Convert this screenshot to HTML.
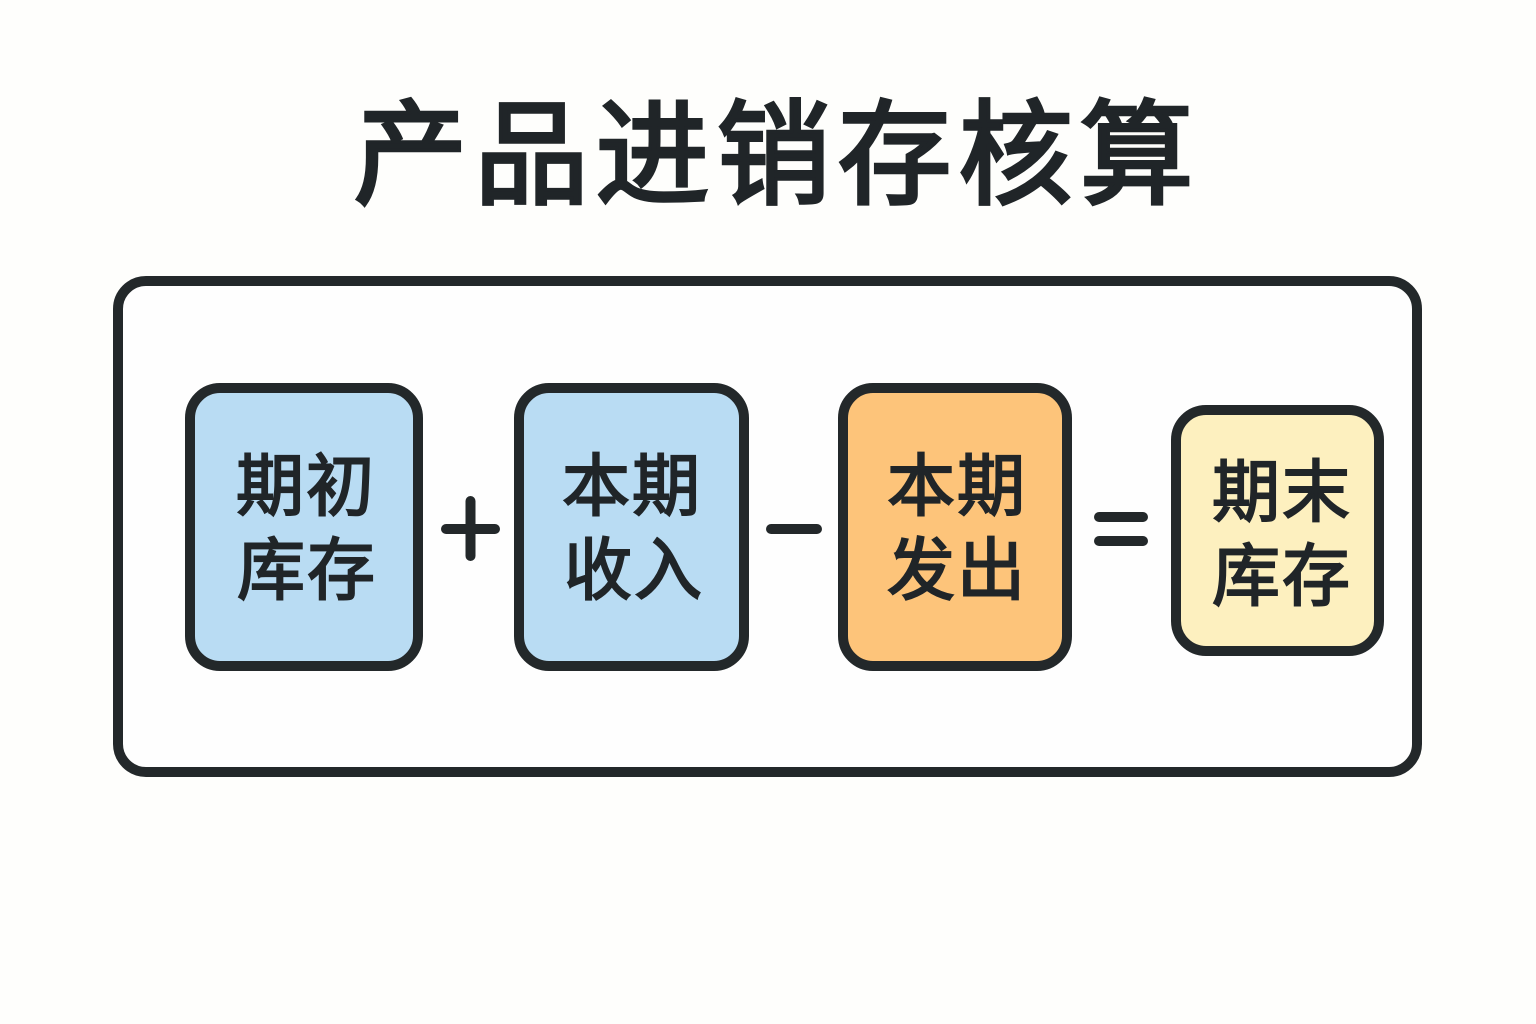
<!DOCTYPE html>
<html lang="zh">
<head>
<meta charset="utf-8">
<style>
html,body{margin:0;padding:0;background:#fefefc;}
body{width:1536px;height:1024px;overflow:hidden;}
svg{display:block;}
text{font-family:"Liberation Sans","Noto Sans CJK SC",sans-serif;fill:#202528;stroke:#202528;text-anchor:middle;font-weight:400;}
.t{font-size:68px;stroke-width:2px;letter-spacing:2px;}
</style>
</head>
<body>
<svg width="1536" height="1024" viewBox="0 0 1536 1024" xmlns="http://www.w3.org/2000/svg">
<rect width="1536" height="1024" fill="#fefefc"/>
<text x="777" y="195" style="font-size:114px;stroke-width:3.5px;letter-spacing:7px">产品进销存核算</text>
<rect x="118" y="281" width="1299" height="491" rx="28" fill="#fefefe" stroke="#23282a" stroke-width="10"/>

<rect x="190" y="388" width="228" height="278" rx="30" fill="#b9dcf3" stroke="#23282a" stroke-width="10"/>
<rect x="519" y="388" width="225" height="278" rx="30" fill="#b9dcf3" stroke="#23282a" stroke-width="10"/>
<rect x="843" y="388" width="224" height="278" rx="30" fill="#fdc47a" stroke="#23282a" stroke-width="10"/>
<rect x="1176" y="410" width="203" height="241" rx="30" fill="#fdf0bf" stroke="#23282a" stroke-width="10"/>

<text class="t" x="306" y="510">期初</text>
<text class="t" x="307" y="594">库存</text>
<text class="t" x="632" y="510">本期</text>
<text class="t" x="634" y="594">收入</text>
<text class="t" x="957" y="510">本期</text>
<text class="t" x="957" y="594">发出</text>
<text class="t" x="1282" y="516">期末</text>
<text class="t" x="1282" y="600">库存</text>

<g stroke="#23282a" stroke-width="10" stroke-linecap="round" fill="none">
<path d="M446 529H495M470.500 501V556"/>
<path d="M771 529H817"/>
<path d="M1099 517H1143"/>
<path d="M1099 541H1143"/>
</g>
</svg>
</body>
</html>
